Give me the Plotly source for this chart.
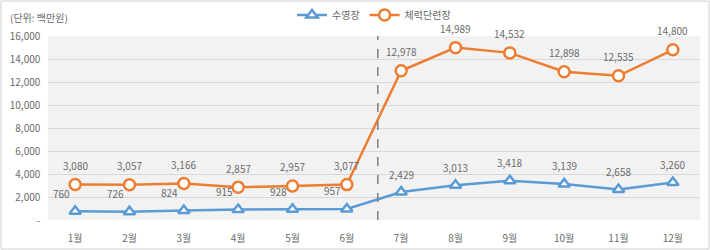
import plotly.graph_objects as go

months = ["1월","2월","3월","4월","5월","6월","7월","8월","9월","10월","11월","12월"]
pool = [760, 726, 824, 915, 928, 957, 2429, 3013, 3418, 3139, 2658, 3260]
gym = [3080, 3057, 3166, 2857, 2957, 3077, 12978, 14989, 14532, 12898, 12535, 14800]
yticks = [0, 2000, 4000, 6000, 8000, 10000, 12000, 14000, 16000]
yticktext = ["-   ", "2,000   ", "4,000   ", "6,000   ", "8,000   ", "10,000   ", "12,000   ", "14,000   ", "16,000   "]

BLUE = "#5B9BD5"
ORANGE = "#ED7D31"
GREY = "#6b6b6b"

W, H = 710, 250
ML, MR, MT, MB = 48, 10, 36, 30
PW, PH = W - ML - MR, H - MT - MB

fig = go.Figure()
fig.add_trace(go.Scatter(
    x=months, y=pool, name="수영장", mode="lines+markers",
    line=dict(color=BLUE, width=2.5),
    marker=dict(symbol="triangle-up", size=10, color="white", line=dict(color=BLUE, width=2.5)),
))
fig.add_trace(go.Scatter(
    x=months, y=gym, name="체력단련장", mode="lines+markers",
    line=dict(color=ORANGE, width=2.5),
    marker=dict(symbol="circle", size=11, color="white", line=dict(color=ORANGE, width=2.5)),
))

ann = []
for i, (m, v) in enumerate(zip(months, gym)):
    ann.append(dict(x=m, y=v, text=f"{v:,}", showarrow=False, yshift=19,
                    font=dict(size=10, color=GREY)))
for i, (m, v) in enumerate(zip(months, pool)):
    ann.append(dict(x=m, y=v, text=f"{v:,}", showarrow=False, yshift=18,
                    xshift=-14 if i < 6 else 0,
                    font=dict(size=10, color=GREY)))
ann.append(dict(xref="paper", yref="paper", x=(8 - ML) / PW, y=(H - 17) / PH - MB / PH,
                xanchor="left", yanchor="middle", text="(단위: 백만원)", showarrow=False,
                font=dict(size=10, color=GREY)))

shapes = [
    dict(type="line", xref="x", yref="paper", x0=5.57, x1=5.57, y0=0, y1=1,
         line=dict(color="#7f7f7f", width=1.5, dash="dash")),
    dict(type="rect", xref="paper", yref="paper",
         x0=(1 - ML) / PW, x1=(W - 1 - ML) / PW,
         y0=-(MB - 1) / PH, y1=(H - MB - 1) / PH,
         line=dict(color="#d0d0d0", width=1), layer="above"),
]

fig.update_layout(
    width=W, height=H, margin=dict(l=ML, r=MR, t=MT, b=MB, autoexpand=False),
    paper_bgcolor="white", plot_bgcolor="#F2F2F2",
    font=dict(family="Noto Sans CJK KR, Noto Sans, sans-serif", size=10, color=GREY),
    showlegend=True,
    legend=dict(orientation="h", x=0.5, xanchor="center", y=(H - MB - 15) / PH, yanchor="middle",
                font=dict(size=10, color=GREY), bgcolor="rgba(0,0,0,0)", itemwidth=30),
    annotations=ann, shapes=shapes,
)
fig.update_xaxes(range=[-0.5, 11.5], showgrid=False, zeroline=False, showline=False,
                 ticks="outside", ticklen=9, tickcolor="rgba(0,0,0,0)", automargin=False,
                 tickfont=dict(size=10, color=GREY), fixedrange=True)
fig.update_yaxes(range=[0, 16000], tickvals=yticks, ticktext=yticktext, showgrid=True,
                 gridcolor="#D9D9D9", gridwidth=1, zeroline=False, showline=False, automargin=False,
                 tickfont=dict(size=10, color=GREY), fixedrange=True)

fig.write_html("out.html")
